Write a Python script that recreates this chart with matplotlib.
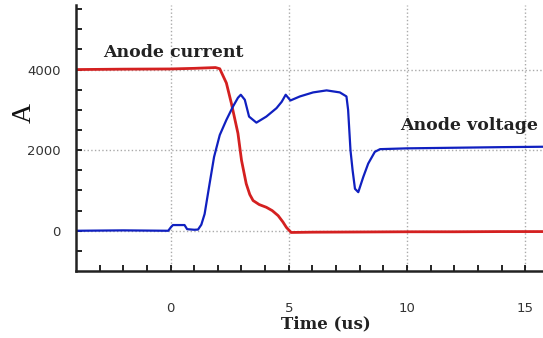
import matplotlib.pyplot as plt
import numpy as np

# anode current (A) vs time (us)
t_current = [-4.0, -2.0, 0.0, 1.0, 1.9, 2.08, 2.36, 2.57, 2.85, 3.0, 3.2, 3.35, 3.49,
             3.75, 4.05, 4.3, 4.55, 4.75, 4.9, 5.1, 6.0, 8.0, 10.0, 12.0, 14.0, 15.8]
i_current = [4000, 4010, 4015, 4030, 4050, 4020, 3667, 3167, 2417, 1750, 1167, 900, 750,
             650, 583, 500, 375, 220, 83, -42, -35, -30, -25, -25, -20, -20]

# anode voltage trace (same A scale)
t_voltage = [-4.0, -2.0, -0.1, 0.03, 0.1, 0.59, 0.7, 1.0, 1.16, 1.3, 1.44, 1.65, 1.84,
             2.08, 2.36, 2.64, 2.85, 2.97, 3.14, 3.32, 3.63, 4.05, 4.48, 4.7, 4.87,
             5.07, 5.47, 6.03, 6.6, 7.16, 7.44, 7.51, 7.56, 7.61, 7.7, 7.8, 7.94,
             8.15, 8.36, 8.64, 8.86, 10.0, 12.0, 14.0, 15.8]
v_voltage = [0, 10, 0, 100, 142, 142, 40, 25, 30, 150, 417, 1167, 1833,
             2375, 2750, 3083, 3300, 3375, 3250, 2833, 2683, 2833, 3042, 3200, 3375,
             3233, 3333, 3433, 3483, 3433, 3333, 3000, 2500, 2000, 1500, 1042, 958,
             1333, 1667, 1958, 2025, 2045, 2060, 2075, 2085]

fig = plt.figure(figsize=(5.43, 3.38), dpi=100, facecolor='white')
ax = fig.add_axes([0.140, 0.198, 0.862, 0.787])

ax.plot(t_current, i_current, color='#d42020', lw=2.0)
ax.plot(t_voltage, v_voltage, color='#1020c0', lw=1.6)

ax.set_xlim(-4.0, 15.8)
ax.set_ylim(-1000, 5600)
ax.set_xticks([0, 5, 10, 15])
ax.set_xticks(np.arange(-3, 16, 1), minor=True)
ax.set_yticks([0, 2000, 4000])
ax.set_yticks(np.arange(-500, 5600, 500), minor=True)
ax.tick_params(which='both', direction='in', color='black', width=1.2)
ax.tick_params(which='major', length=4)
ax.tick_params(which='minor', length=4)
ax.tick_params(axis='x', which='major', pad=22, labelsize=9.5, labelcolor='#333333')
ax.tick_params(axis='y', which='major', pad=11, labelsize=9.5, labelcolor='#333333')

ax.grid(True, which='major', color='#aaaaaa', linestyle=':', linewidth=1.0)
for s in ['top', 'right']:
    ax.spines[s].set_visible(False)
for s in ['left', 'bottom']:
    ax.spines[s].set_linewidth(1.8)
    ax.spines[s].set_color('#222222')

serif = ['DejaVu Serif']
ax.text(0.1, 4425, 'Anode current', ha='center', va='center', family=serif,
        fontsize=12.5, fontweight='bold', color='#222222')
ax.text(9.7, 2600, 'Anode voltage', ha='left', va='center', family=serif,
        fontsize=12.5, fontweight='bold', color='#222222')
fig.text(24 / 543, 1 - 113 / 338, 'A', rotation=90, ha='center', va='center',
         family=['Liberation Serif'], fontsize=20, color='#111111')
fig.text(326 / 543, 1 - 324 / 338, 'Time (us)', ha='center', va='center',
         family=serif, fontsize=12, fontweight='bold', color='#222222')

fig.savefig('out.png', dpi=100)
